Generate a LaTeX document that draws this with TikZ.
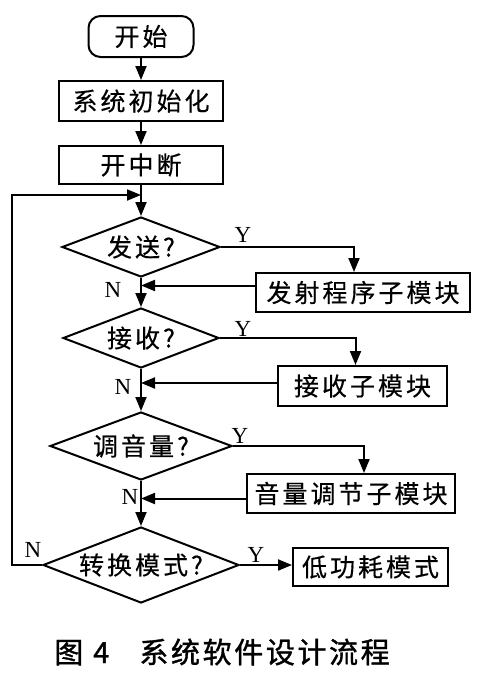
\documentclass[tikz,border=0pt]{standalone}
\usepackage{fontspec}
\setmainfont{Liberation Serif}
\newfontfamily\cjk{Noto Sans CJK SC}[LetterSpace=12,FakeBold=0.4]
\newfontfamily\cjkcap{Noto Sans CJK SC}[LetterSpace=9,FakeBold=1.2]
\usetikzlibrary{shapes.geometric,arrows.meta}
\tikzset{
  box/.style={draw, line width=2pt, minimum height=39pt, inner sep=0pt,
    font=\cjk\fontsize{25}{25}\selectfont},
  dia/.style={diamond, draw, line width=2pt, inner sep=0pt, aspect=3,
    font=\cjk\fontsize{25}{25}\selectfont},
  arr/.style={line width=2pt, -{Triangle[length=14pt,width=11pt]}},
  lab/.style={font=\fontsize{23}{23}\selectfont, inner sep=0pt},
}
\begin{document}
\begin{tikzpicture}[x=1pt,y=-1pt]
\useasboundingbox (0,0) rectangle (486,680);
% main column
\node[box, rounded corners=12pt, minimum width=105pt, minimum height=41pt] (start) at (141,36.5) {开始};
\node[box, minimum width=164pt, minimum height=40pt] (init) at (141,101) {系统初始化};
\node[box, minimum width=164pt, minimum height=38pt] (kzd) at (141,165) {开中断};
\node[dia, minimum width=158pt, minimum height=60pt] (d1) at (141,247) {发送?};
\node[dia, minimum width=156pt, minimum height=60pt] (d2) at (141,338) {接收?};
\node[dia, minimum width=182pt, minimum height=68pt] (d3) at (141,446) {调音量?};
\node[dia, minimum width=196pt, minimum height=76pt] (d4) at (141,565) {转换模式?};
% side boxes
\node[box, minimum width=214pt] (b1) at (363,292.5) {发射程序子模块};
\node[box, minimum width=169pt, minimum height=40pt] (b2) at (362.5,386) {接收子模块};
\node[box, minimum width=208pt] (b3) at (351,493.5) {音量调节子模块};
\node[box, minimum width=155pt, minimum height=38pt] (b4) at (370.5,567) {低功耗模式};
% loop coordinates
\coordinate (loopin) at (141,195);
\coordinate (lc) at (12,195);
% connectors
\draw[arr] (start) -- (init);
\draw[arr] (init) -- (kzd);
\draw[arr] (kzd) -- (d1);
\draw[arr] (d1.south) -- (d2.north);
\draw[arr] (d2.south) -- (d3.north);
\draw[arr] (d3.south) -- (d4.north);
\draw[arr] (d4.west) -| (lc) -- (loopin);
\draw[arr] (d1.east) -| ([xshift=-9pt]b1.north);
\draw[arr] (d2.east) -| ([xshift=-7pt]b2.north);
\draw[arr] (d3.east) -| ([xshift=13pt]b3.north);
\draw[arr] (d4.east) -- (d4.east -| b4.west);
\draw[arr] ([yshift=7pt]b1.west) -- ([yshift=7pt]b1.west -| d1.south);
\draw[arr] ([yshift=3pt]b2.west) -- ([yshift=3pt]b2.west -| d2.south);
\draw[arr] ([yshift=-5pt]b3.west) -- ([yshift=-5pt]b3.west -| d3.south);
% labels
\node[lab] (y1) at (243,235) {Y};
\node[lab] (y2) at (243,329) {Y};
\node[lab] (y3) at (240,436) {Y};
\node[lab] (y4) at (256,555) {Y};
\node[lab] (n1) at (113,290) {N};
\node[lab] (n2) at (123,387) {N};
\node[lab] (n3) at (130,497) {N};
\node[lab] (n4) at (33,550) {N};
% caption
\node[font=\cjkcap\fontsize{29}{29}\selectfont, inner sep=0pt] (cap) at (222,652) {图\hspace{10pt}4\hspace{30pt}系统软件设计流程};
\end{tikzpicture}
\end{document}
